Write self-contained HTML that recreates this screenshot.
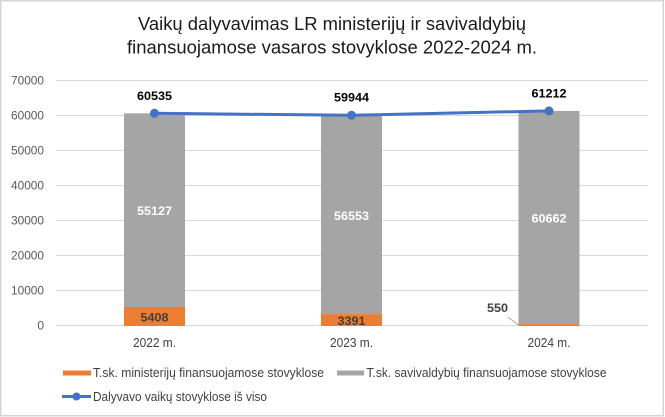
<!DOCTYPE html>
<html>
<head>
<meta charset="utf-8">
<style>
  html, body { margin: 0; padding: 0; background: #ffffff; }
  body { width: 665px; height: 417px; overflow: hidden; }
  svg { display: block; }
  text { font-family: "Liberation Sans", "DejaVu Sans", sans-serif; }
</style>
</head>
<body>
<svg width="665" height="417" viewBox="0 0 665 417" xmlns="http://www.w3.org/2000/svg">
  <rect x="0" y="0" width="665" height="417" fill="#ffffff"/>
  <rect x="0.75" y="0.75" width="662.5" height="415" fill="none" stroke="#d4d4d4" stroke-width="1.5"/>

  <!-- Title -->
  <text x="332" y="30" font-size="18.5" fill="#1a1a1a" text-anchor="middle" textLength="388" lengthAdjust="spacingAndGlyphs">Vaikų dalyvavimas LR ministerijų ir savivaldybių</text>
  <text x="332" y="53.5" font-size="18.5" fill="#1a1a1a" text-anchor="middle" textLength="410" lengthAdjust="spacingAndGlyphs">finansuojamose vasaros stovyklose 2022-2024 m.</text>

  <!-- Gridlines -->
  <g stroke="#d9d9d9" stroke-width="1">
    <line x1="56" y1="80.5" x2="648" y2="80.5"/>
    <line x1="56" y1="115.5" x2="648" y2="115.5"/>
    <line x1="56" y1="150.5" x2="648" y2="150.5"/>
    <line x1="56" y1="185.5" x2="648" y2="185.5"/>
    <line x1="56" y1="220.5" x2="648" y2="220.5"/>
    <line x1="56" y1="255.5" x2="648" y2="255.5"/>
    <line x1="56" y1="290.5" x2="648" y2="290.5"/>
    <line x1="56" y1="325.5" x2="648" y2="325.5"/>
  </g>

  <!-- Y axis labels -->
  <g font-size="12" fill="#595959" text-anchor="end">
    <text x="44" y="84.5" textLength="33" lengthAdjust="spacingAndGlyphs">70000</text>
    <text x="44" y="119.5" textLength="33" lengthAdjust="spacingAndGlyphs">60000</text>
    <text x="44" y="154.5" textLength="33" lengthAdjust="spacingAndGlyphs">50000</text>
    <text x="44" y="189.5" textLength="33" lengthAdjust="spacingAndGlyphs">40000</text>
    <text x="44" y="224.5" textLength="33" lengthAdjust="spacingAndGlyphs">30000</text>
    <text x="44" y="259.5" textLength="33" lengthAdjust="spacingAndGlyphs">20000</text>
    <text x="44" y="294.5" textLength="33" lengthAdjust="spacingAndGlyphs">10000</text>
    <text x="44" y="329.5">0</text>
  </g>

  <!-- Bars: gray -->
  <g fill="#a5a5a5">
    <rect x="124" y="113.3" width="61" height="193.7"/>
    <rect x="321" y="115.3" width="61" height="198.8"/>
    <rect x="518.5" y="110.9" width="61" height="213.2"/>
  </g>
  <!-- Bars: orange -->
  <g fill="#ed7d31">
    <rect x="124" y="307" width="61" height="19"/>
    <rect x="321" y="314.1" width="61" height="11.9"/>
    <rect x="518.5" y="324.1" width="61" height="1.9"/>
  </g>

  <!-- Bar labels -->
  <g font-size="12" font-weight="bold" text-anchor="middle">
    <text x="154.5" y="215" fill="#ffffff" textLength="35" lengthAdjust="spacingAndGlyphs">55127</text>
    <text x="351.5" y="220" fill="#ffffff" textLength="35" lengthAdjust="spacingAndGlyphs">56553</text>
    <text x="549" y="222.5" fill="#ffffff" textLength="35" lengthAdjust="spacingAndGlyphs">60662</text>
    <text x="154.5" y="321.5" fill="#404040" textLength="28" lengthAdjust="spacingAndGlyphs">5408</text>
    <text x="351.5" y="325" fill="#404040" textLength="28" lengthAdjust="spacingAndGlyphs">3391</text>
    <text x="497.5" y="312" fill="#404040" textLength="21" lengthAdjust="spacingAndGlyphs">550</text>
  </g>
  <line x1="508" y1="317" x2="518.5" y2="325" stroke="#a6a6a6" stroke-width="1"/>

  <!-- Total line -->
  <polyline points="154.5,113.3 351.5,115.3 549,110.9" fill="none" stroke="#4472c4" stroke-width="3" stroke-linejoin="round"/>
  <g fill="#4472c4">
    <circle cx="154.5" cy="113.3" r="4.5"/>
    <circle cx="351.5" cy="115.3" r="4.5"/>
    <circle cx="549" cy="110.9" r="4.5"/>
  </g>
  <g font-size="12" font-weight="bold" fill="#000000" text-anchor="middle">
    <text x="154.5" y="100" textLength="35" lengthAdjust="spacingAndGlyphs">60535</text>
    <text x="351.5" y="101.5" textLength="35" lengthAdjust="spacingAndGlyphs">59944</text>
    <text x="549" y="97.5" textLength="35" lengthAdjust="spacingAndGlyphs">61212</text>
  </g>

  <!-- X axis labels -->
  <g font-size="12.5" fill="#404040" text-anchor="middle">
    <text x="154.5" y="347" textLength="43" lengthAdjust="spacingAndGlyphs">2022 m.</text>
    <text x="351.5" y="347" textLength="43" lengthAdjust="spacingAndGlyphs">2023 m.</text>
    <text x="549" y="347" textLength="43" lengthAdjust="spacingAndGlyphs">2024 m.</text>
  </g>

  <!-- Legend -->
  <rect x="63" y="370.5" width="28" height="5" fill="#ed7d31"/>
  <text x="93" y="377" font-size="12.5" fill="#404040" textLength="231" lengthAdjust="spacingAndGlyphs">T.sk. ministerijų finansuojamose stovyklose</text>
  <rect x="337" y="370.5" width="27" height="5" fill="#a5a5a5"/>
  <text x="366.5" y="377" font-size="12.5" fill="#404040" textLength="240" lengthAdjust="spacingAndGlyphs">T.sk. savivaldybių finansuojamose stovyklose</text>
  <line x1="62" y1="396.5" x2="91" y2="396.5" stroke="#4472c4" stroke-width="3"/>
  <circle cx="76.5" cy="396.5" r="4" fill="#4472c4"/>
  <text x="93" y="401" font-size="12.5" fill="#404040" textLength="174" lengthAdjust="spacingAndGlyphs">Dalyvavo vaikų stovyklose iš viso</text>
</svg>
</body>
</html>
